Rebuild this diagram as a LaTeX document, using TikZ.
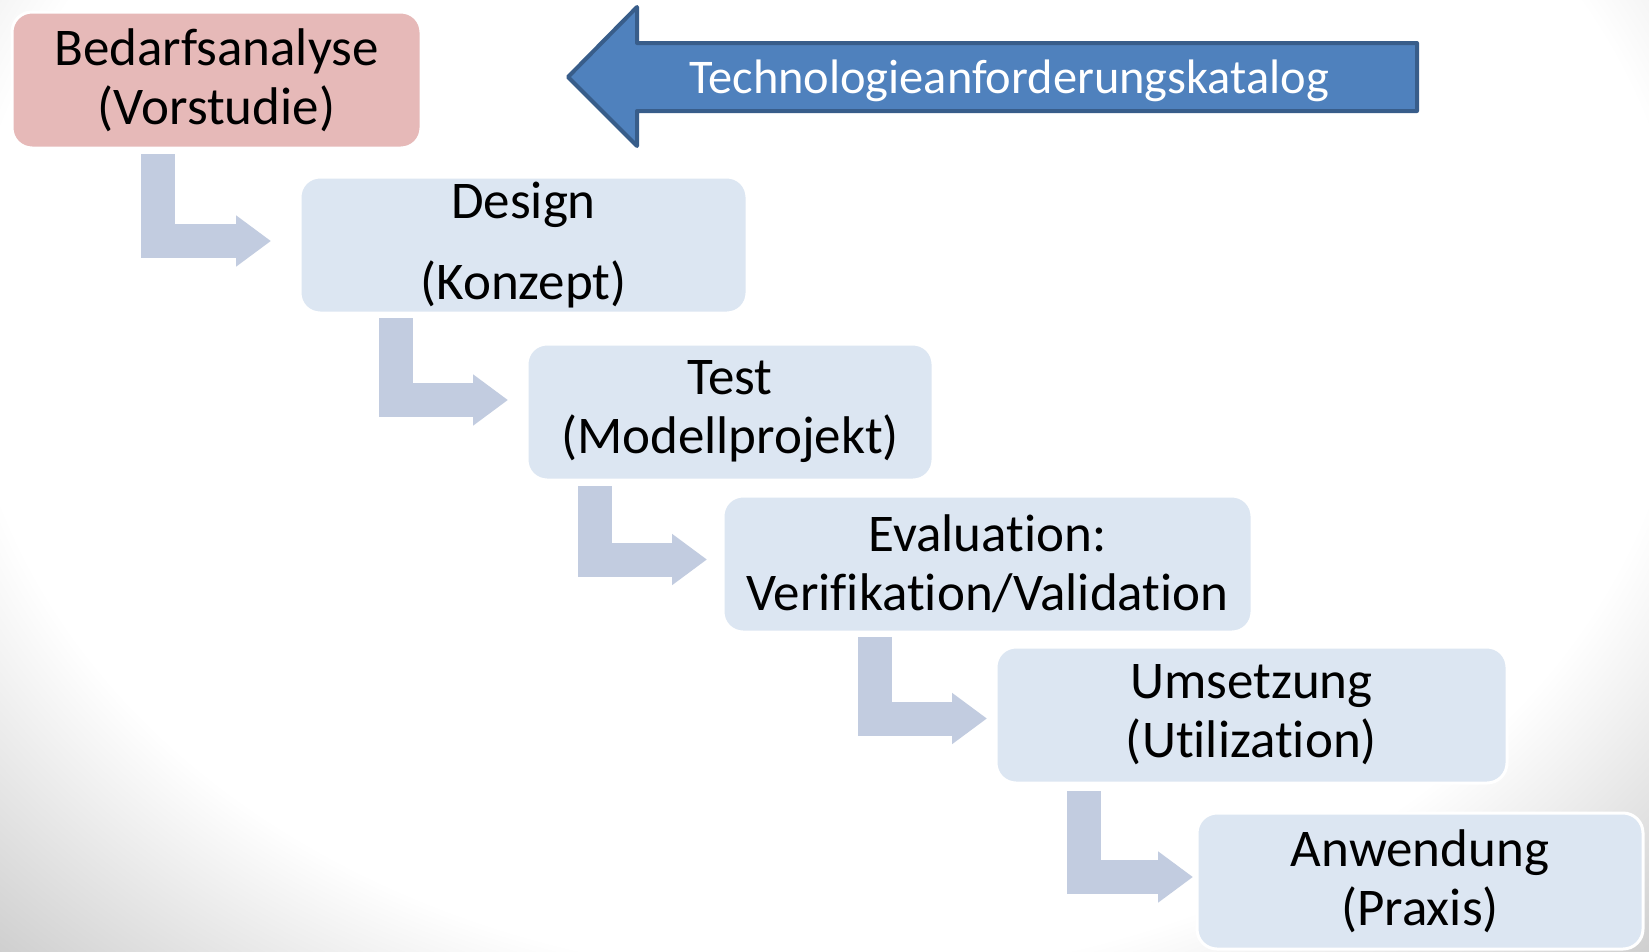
\documentclass[tikz,border=0pt]{standalone}
\usepackage{fontspec}
\setmainfont[Ligatures=NoCommon]{Carlito}
\usetikzlibrary{positioning, calc, arrows.meta}
\definecolor{boxblue}{HTML}{DCE6F2}
\definecolor{boxred}{HTML}{E6B9B8}
\definecolor{flowblue}{HTML}{C2CCE0}
\definecolor{katfill}{HTML}{4F81BD}
\definecolor{katdraw}{HTML}{385D8A}
\pgfdeclareradialshading{bgshade}{\pgfpoint{0bp}{0bp}}{color(0bp)=(white); color(26bp)=(white); color(36bp)=(gray!40); color(50bp)=(gray!50)}
\tikzstyle{phase}=[rectangle, rounded corners=20pt, fill=boxblue, draw=white, line width=3pt, outer sep=0, inner sep=0, align=center, minimum height=136pt, font=\fontsize{53pt}{59pt}\selectfont]
\tikzstyle{flow}=[flowblue, line width=34pt, -{Triangle[length=35pt, width=49pt]}]

\begin{document}
\begin{tikzpicture}[x=1pt, y=-1pt]
            \useasboundingbox (0,0) rectangle (1649,951);
            \begin{scope}
              \clip (0,0) rectangle (1649,951);
              \shade[shading=bgshade] (0,-320) rectangle (1649,951);
            \end{scope}

            % phases
            \node[phase, fill=boxred, minimum width=409pt] (bedarf) at (216.5,80) {Bedarfsanalyse\\(Vorstudie)};
            \node[phase, minimum width=447pt] (design) at (523.5,245) {Design\\[22pt](Konzept)};
            \node[phase, minimum width=406pt] (test) at (730,412) {Test\\(Modellprojekt)};
            \node[phase, minimum width=529pt] (eval) at (987.5,564) {Evaluation:\\Verifikation/Validation};
            \node[phase, minimum width=511pt] (umsetz) at (1251.5,715) {Umsetzung\\(Utilization)};
            \node[phase, minimum width=446pt] (anwend) at (1420,881) {Anwendung\\(Praxis)};

            \draw[flow] ([xshift=146pt, yshift=-6pt]bedarf.south west) |- ([xshift=-29pt, yshift=4pt]design.west);
            \draw[flow] ([xshift=96pt, yshift=-5pt]design.south west) |- ([xshift=-19pt, yshift=12pt]test.west);
            \draw[flow] ([xshift=68pt, yshift=-6pt]test.south west) |- ([xshift=-16pt, yshift=4.5pt]eval.west);
            \draw[flow] ([xshift=151.5pt, yshift=-5pt]eval.south west) |- ([xshift=-9pt, yshift=-3.5pt]umsetz.west);
            \draw[flow] ([xshift=88pt, yshift=-8pt]umsetz.south west) |- ([xshift=-4pt, yshift=4pt]anwend.west);

            % feedback arrow
            \draw[katdraw, fill=katfill, line width=4pt, line join=round] (1417,43) -- (637,43) -- (637,7) -- (568,77) -- (637,146) -- (637,111) -- (1417,111) -- cycle;
            \node[text=white, anchor=base, font=\fontsize{48.4pt}{56pt}\selectfont] (katalog) at (1009,93) {Technologieanforderungskatalog};
\end{tikzpicture}
\end{document}
